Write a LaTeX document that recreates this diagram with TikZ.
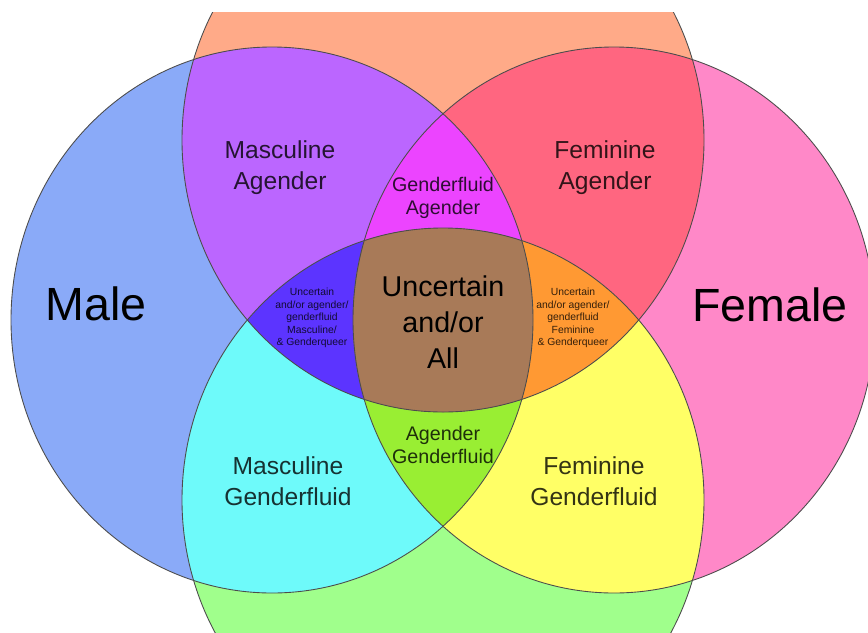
\documentclass[tikz,border=0pt]{standalone}
\usepackage{fontspec}
\setmainfont{Liberation Sans}
\definecolor{maleblue}{RGB}{138,170,248}
\definecolor{femalepink}{RGB}{255,136,200}
\definecolor{agsalmon}{RGB}{255,170,136}
\definecolor{fluidgreen}{RGB}{160,255,140}
\definecolor{mascpurple}{RGB}{187,102,255}
\definecolor{femred}{RGB}{255,102,128}
\definecolor{masccyan}{RGB}{110,250,250}
\definecolor{femyellow}{RGB}{255,255,102}
\definecolor{topmagenta}{RGB}{236,68,255}
\definecolor{botgreen}{RGB}{153,238,51}
\definecolor{leftindigo}{RGB}{92,52,255}
\definecolor{rightorange}{RGB}{255,153,51}
\definecolor{allbrown}{RGB}{168,122,88}

\begin{document}
\begin{tikzpicture}[x=0.02cm, y=-0.02cm,
      every node/.style = {align=center, inner sep=0pt},
      outline/.style = {draw=black!70, line width=0.5pt},
      huge/.style = {font=\fontsize{26.5}{32}\selectfont},
      mid/.style = {font=\fontsize{16.3}{20.4}\selectfont},
      region/.style = {font=\fontsize{14}{17.6}\selectfont, text opacity=0.8},
      lens/.style = {font=\fontsize{11.2}{13.3}\selectfont, text opacity=0.8},
      tiny/.style = {font=\fontsize{5.9}{7.1}\selectfont, text opacity=0.8}]
  \useasboundingbox (0,0) rectangle (868,632);
  \begin{scope}
    \clip (0,12) rectangle (868,632);
    % the four sets
    \fill[maleblue] (272,320) ellipse [x radius=261, y radius=273];
    \fill[femalepink] (614,320) ellipse [x radius=261, y radius=273];
    \fill[agsalmon] (443,140) ellipse [x radius=261, y radius=272];
    \fill[fluidgreen] (443,500) ellipse [x radius=261, y radius=272];
    % pairs
    \begin{scope}
      \clip (272,320) ellipse [x radius=261, y radius=273];
      \fill[mascpurple] (443,140) ellipse [x radius=261, y radius=272];
      \fill[masccyan] (443,500) ellipse [x radius=261, y radius=272];
    \end{scope}
    \begin{scope}
      \clip (614,320) ellipse [x radius=261, y radius=273];
      \fill[femred] (443,140) ellipse [x radius=261, y radius=272];
      \fill[femyellow] (443,500) ellipse [x radius=261, y radius=272];
    \end{scope}
    % triples
    \begin{scope}
      \clip (272,320) ellipse [x radius=261, y radius=273];
      \clip (614,320) ellipse [x radius=261, y radius=273];
      \fill[topmagenta] (443,140) ellipse [x radius=261, y radius=272];
      \fill[botgreen] (443,500) ellipse [x radius=261, y radius=272];
    \end{scope}
    \begin{scope}
      \clip (443,140) ellipse [x radius=261, y radius=272];
      \clip (443,500) ellipse [x radius=261, y radius=272];
      \fill[leftindigo] (272,320) ellipse [x radius=261, y radius=273];
      \fill[rightorange] (614,320) ellipse [x radius=261, y radius=273];
      % all four
      \clip (272,320) ellipse [x radius=261, y radius=273];
      \fill[allbrown] (614,320) ellipse [x radius=261, y radius=273];
    \end{scope}
    % outlines
    \draw[outline] (272,320) ellipse [x radius=261, y radius=273];
    \draw[outline] (614,320) ellipse [x radius=261, y radius=273];
    \draw[outline] (443,140) ellipse [x radius=261, y radius=272];
    \draw[outline] (443,500) ellipse [x radius=261, y radius=272];
  \end{scope}

  \node[huge, anchor=base] (male) at (96,320) {Male};
  \node[huge, anchor=base] (female) at (770,321) {Female};
  \node[mid] (all) at (443,322) {Uncertain\\and/or\\All};
  \node[region] (mascag) at (280,168) {Masculine\\Agender};
  \node[region] (femag) at (605,168) {Feminine\\Agender};
  \node[lens] (fluidag) at (443,198) {Genderfluid\\Agender};
  \node[lens] (agfluid) at (443,445) {Agender\\Genderfluid};
  \node[region] (mascfluid) at (288,481) {Masculine\\Genderfluid};
  \node[region] (femfluid) at (594,481) {Feminine\\Genderfluid};
  \node[tiny] (mascq) at (312,318)
    {Uncertain\\and/or agender/\\genderfluid\\Masculine/\\\& Genderqueer};
  \node[tiny] (femq) at (573,318)
    {Uncertain\\and/or agender/\\genderfluid\\Feminine\\\& Genderqueer};
\end{tikzpicture}
\end{document}
